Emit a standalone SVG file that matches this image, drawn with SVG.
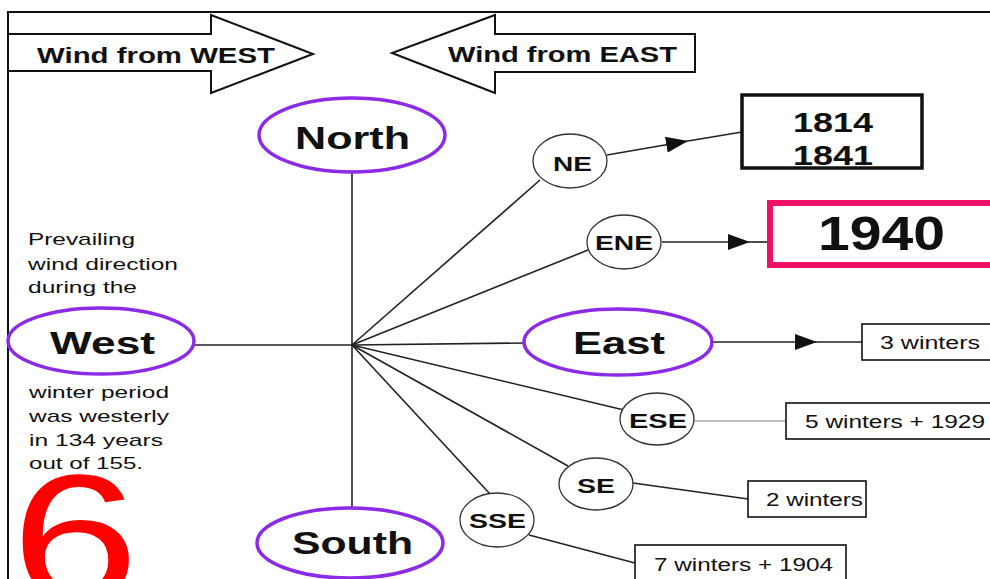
<svg xmlns="http://www.w3.org/2000/svg" width="990" height="579" viewBox="0 0 990 579">
<defs>
<style>
text{font-family:"Liberation Sans",Arial,sans-serif;fill:#111}
.b{font-weight:bold}
.big{stroke:#8c2be6;stroke-width:3.5;fill:#fff}
.sm{stroke:#333;stroke-width:1.3;fill:#fff}
.box{stroke:#111;stroke-width:1.6;fill:#fff}
.ln{stroke:#222;stroke-width:1.6;fill:none}
.wind{stroke:#111;stroke-width:2;fill:#fff}
</style>
<marker id="ah" viewBox="0 0 22 16" refX="22" refY="8" markerUnits="userSpaceOnUse" markerWidth="22" markerHeight="16" orient="auto">
<path d="M0,0 L22,8 L0,16 z" fill="#111"/>
</marker>
</defs>
<rect width="990" height="579" fill="#fff"/>
<g id="frame">
<path d="M8,579 V12 H990" fill="none" stroke="#111" stroke-width="2"/>
</g>
<g id="wind-west">
<path class="wind" d="M8,34 H211 V15 L313,54 L211,93 V71 H8 z"/>
<text class="b" x="37" y="63" font-size="22" textLength="238" lengthAdjust="spacingAndGlyphs">Wind from WEST</text>
</g>
<g id="wind-east">
<path class="wind" d="M695,34 H495 V15 L392,53 L495,93 V72 H695 z"/>
<text class="b" x="448" y="62" font-size="22" textLength="229" lengthAdjust="spacingAndGlyphs">Wind from EAST</text>
</g>
<g id="connectors">
<line class="ln" x1="352" y1="172" x2="352" y2="508"/>
<line class="ln" x1="195" y1="345" x2="352" y2="345"/>
<line class="ln" x1="352" y1="345" x2="540" y2="180"/>
<line class="ln" x1="352" y1="345" x2="588" y2="250"/>
<line class="ln" x1="352" y1="345" x2="524" y2="343"/>
<line class="ln" x1="352" y1="345" x2="624" y2="410"/>
<line class="ln" x1="352" y1="345" x2="568" y2="466"/>
<line class="ln" x1="352" y1="345" x2="490" y2="494"/>
<path class="ln" d="M607,155 L688,141" marker-end="url(#ah)"/>
<line class="ln" x1="688" y1="141" x2="742" y2="132"/>
<path class="ln" d="M662,242 L750,242" marker-end="url(#ah)"/>
<line class="ln" x1="750" y1="242" x2="767" y2="242"/>
<path class="ln" d="M712,342 L817,342" marker-end="url(#ah)"/>
<line class="ln" x1="817" y1="342" x2="862" y2="342"/>
<line x1="694" y1="421" x2="786" y2="421" stroke="#aaa" stroke-width="1.4"/>
<line class="ln" x1="633" y1="483" x2="748" y2="499"/>
<line class="ln" x1="529" y1="535" x2="635" y2="563"/>
</g>
<g id="north">
<ellipse class="big" cx="352" cy="135" rx="93" ry="37"/>
<text class="b" x="295" y="149" font-size="32" textLength="115" lengthAdjust="spacingAndGlyphs">North</text>
</g>
<g id="west">
<ellipse class="big" cx="101" cy="341" rx="93" ry="33"/>
<text class="b" x="50" y="354" font-size="32" textLength="105" lengthAdjust="spacingAndGlyphs">West</text>
</g>
<g id="east">
<ellipse class="big" cx="618" cy="342" rx="94" ry="33"/>
<text class="b" x="573" y="354" font-size="32" textLength="92" lengthAdjust="spacingAndGlyphs">East</text>
</g>
<g id="south">
<ellipse class="big" cx="350" cy="543" rx="93" ry="35"/>
<text class="b" x="292" y="554" font-size="32" textLength="121" lengthAdjust="spacingAndGlyphs">South</text>
</g>
<g id="ne">
<ellipse class="sm" cx="570" cy="161" rx="37" ry="27"/>
<text class="b" x="553" y="171" font-size="20" textLength="39" lengthAdjust="spacingAndGlyphs">NE</text>
</g>
<g id="ene">
<ellipse class="sm" cx="624" cy="242" rx="37" ry="27"/>
<text class="b" x="595" y="250" font-size="20" textLength="58" lengthAdjust="spacingAndGlyphs">ENE</text>
</g>
<g id="ese">
<ellipse class="sm" cx="657" cy="419" rx="37" ry="26"/>
<text class="b" x="629" y="428" font-size="20" textLength="58" lengthAdjust="spacingAndGlyphs">ESE</text>
</g>
<g id="se">
<ellipse class="sm" cx="596" cy="484" rx="37" ry="26"/>
<text class="b" x="577" y="493" font-size="20" textLength="38" lengthAdjust="spacingAndGlyphs">SE</text>
</g>
<g id="sse">
<ellipse class="sm" cx="497" cy="520" rx="37" ry="27"/>
<text class="b" x="469" y="528" font-size="20" textLength="57" lengthAdjust="spacingAndGlyphs">SSE</text>
</g>
<g id="box-1814">
<rect x="742" y="95" width="180" height="73" fill="#fff" stroke="#111" stroke-width="3.5"/>
<text class="b" x="793" y="132" font-size="28" textLength="80" lengthAdjust="spacingAndGlyphs">1814</text>
<text class="b" x="793" y="165" font-size="28" textLength="80" lengthAdjust="spacingAndGlyphs">1841</text>
</g>
<g id="box-1940">
<rect x="770" y="203" width="230" height="62" fill="#fff" stroke="#ee1166" stroke-width="6"/>
<text class="b" x="818" y="250" font-size="48" textLength="127" lengthAdjust="spacingAndGlyphs">1940</text>
</g>
<g id="box-3">
<rect class="box" x="862" y="324" width="140" height="36"/>
<text x="880" y="349" font-size="18" textLength="100" lengthAdjust="spacingAndGlyphs">3 winters</text>
</g>
<g id="box-5">
<rect class="box" x="786" y="403" width="216" height="36"/>
<text x="805" y="428" font-size="18" textLength="180" lengthAdjust="spacingAndGlyphs">5 winters + 1929</text>
</g>
<g id="box-2">
<rect class="box" x="748" y="481" width="118" height="36"/>
<text x="766" y="506" font-size="18" textLength="97" lengthAdjust="spacingAndGlyphs">2 winters</text>
</g>
<g id="box-7">
<rect class="box" x="635" y="545" width="211" height="45"/>
<text x="654" y="571" font-size="18" textLength="179" lengthAdjust="spacingAndGlyphs">7 winters + 1904</text>
</g>
<g id="note">
<text x="28" y="245" font-size="17" textLength="107" lengthAdjust="spacingAndGlyphs">Prevailing</text>
<text x="28" y="270" font-size="17" textLength="150" lengthAdjust="spacingAndGlyphs">wind direction</text>
<text x="28" y="293" font-size="17" textLength="109" lengthAdjust="spacingAndGlyphs">during the</text>
<text x="29" y="398" font-size="17" textLength="140" lengthAdjust="spacingAndGlyphs">winter period</text>
<text x="29" y="422" font-size="17" textLength="140" lengthAdjust="spacingAndGlyphs">was westerly</text>
<text x="29" y="446" font-size="17" textLength="134" lengthAdjust="spacingAndGlyphs">in 134 years</text>
<text x="29" y="469" font-size="17" textLength="114" lengthAdjust="spacingAndGlyphs">out of 155.</text>
</g>
<g id="page-number">
<text x="11" y="600" font-size="180" textLength="128" lengthAdjust="spacingAndGlyphs" style="fill:#ff0000">6</text>
</g>
</svg>
